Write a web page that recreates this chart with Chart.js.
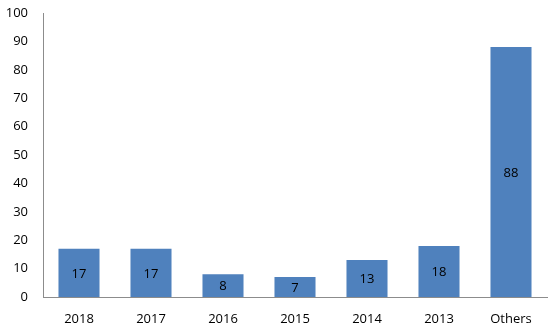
<!DOCTYPE html>
<html>
<head>
<meta charset="utf-8">
<script src="https://cdn.jsdelivr.net/npm/chart.js@4/dist/chart.umd.min.js"></script>
<style>
  html, body { margin: 0; padding: 0; background: #fff; }
  #wrap { width: 550px; height: 332px; }
</style>
</head>
<body>
<div id="wrap"><canvas id="chart" width="550" height="332"></canvas></div>
<script>
const categories = ['2018', '2017', '2016', '2015', '2014', '2013', 'Others'];
const counts = [17, 17, 8, 7, 13, 18, 88];
const yTicks = [0, 10, 20, 30, 40, 50, 60, 70, 80, 90, 100];

// write each value in the middle of its bar
const barLabels = {
  id: 'barLabels',
  afterDatasetsDraw(chart) {
    const ctx = chart.ctx;
    const meta = chart.getDatasetMeta(0);
    ctx.save();
    ctx.font = '13px "Open Sans"';
    ctx.fillStyle = '#000';
    ctx.textAlign = 'center';
    ctx.textBaseline = 'middle';
    meta.data.forEach((bar, i) => {
      const mid = (bar.y + bar.base) / 2;
      ctx.fillText(String(counts[i]), bar.x, mid + 1);
    });
    ctx.restore();
  }
};

new Chart(document.getElementById('chart'), {
  type: 'bar',
  data: {
    labels: categories,
    datasets: [{
      data: counts,
      backgroundColor: '#4F81BD',
      borderWidth: 0,
      barPercentage: 0.57,
      categoryPercentage: 1.0
    }]
  },
  options: {
    responsive: false,
    animation: false,
    layout: { padding: { top: 13, right: 3, left: 0, bottom: 0 } },
    plugins: {
      legend: { display: false },
      tooltip: { enabled: false }
    },
    scales: {
      x: {
        grid: { display: false, drawTicks: false },
        border: { color: '#8c8c8c', width: 1 },
        ticks: {
          color: '#000',
          font: { family: 'Open Sans', size: 13 },
          padding: 14,
          maxRotation: 0
        },
        afterFit(scale) { scale.height = 35; scale.paddingLeft = 0; scale.paddingRight = 0; }
      },
      y: {
        min: 0,
        max: 100,
        afterBuildTicks(scale) { scale.ticks = yTicks.map(v => ({ value: v })); },
        grid: { display: false, drawTicks: false },
        border: { color: '#8c8c8c', width: 1 },
        ticks: {
          color: '#000',
          font: { family: 'Open Sans', size: 13 },
          padding: 15
        },
        afterFit(scale) { scale.width = 43; scale.paddingTop = 0; scale.paddingBottom = 0; }
      }
    }
  },
  plugins: [barLabels]
});
</script>
</body>
</html>
